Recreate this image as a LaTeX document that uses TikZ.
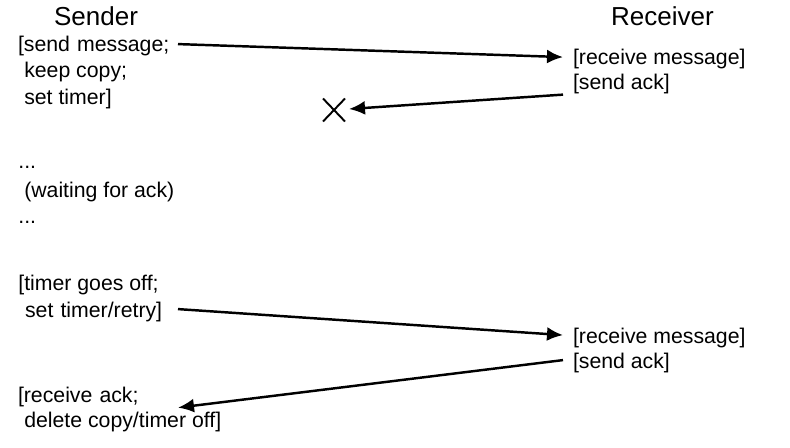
\documentclass[tikz,border=0pt]{standalone}
\usepackage{fontspec}
\setmainfont{Liberation Sans}
\usetikzlibrary{arrows.meta, shapes.misc}

\begin{document}
\begin{tikzpicture}[
    heading/.style={anchor=base, inner sep=0pt, font=\fontsize{14.8}{18}\selectfont},
    sline/.style={anchor=base west, inner sep=0pt, text height=12pt, text depth=3pt, font=\fontsize{12.1}{14}\selectfont},
    scol/.style={sline, text width=3.1cm, align=left, outer xsep=0.1cm},
    rline/.style={sline, outer xsep=0.2cm},
    lostmark/.style={cross out, draw, line width=1.1pt, minimum width=0.44cm, minimum height=0.46cm, inner sep=0pt, outer sep=0pt},
    msg/.style={-{Latex[length=0.32cm, width=0.28cm]}, line width=1.4pt}
]
\useasboundingbox (0,0) rectangle (15.8,8.94);

% Headings
\node[heading] (sender) at (1.92,8.42) {Sender};
\node[heading] (receiver) at (13.25,8.42) {Receiver};

% Sender side
\node[scol] (sendmsg) at (0.26,7.90) {[send message;};
\node[sline] (keepcopy) at (0.36,7.38) {\ keep copy;};
\node[sline] (settimer) at (0.36,6.86) {\ set timer]};

\node[sline] (dotsa) at (0.36,5.58) {...};
\node[sline] (waiting) at (0.36,5.00) {\ (waiting for ack)};
\node[sline] (dotsb) at (0.36,4.48) {...};

\node[sline] (timeroff) at (0.36,3.14) {[timer goes off;};
\node[scol] (retry) at (0.26,2.60) {\ set timer/retry]};

\node[scol] (recvack) at (0.26,0.90) {[receive ack;};
\node[sline] (delcopy) at (0.36,0.40) {\ delete copy/timer off]};

% Receiver side
\node[rline] (recvmsg) at (11.26,7.64) {[receive message]};
\node[rline] (sendack) at (11.26,7.16) {[send ack]};

\node[rline] (recvmsgb) at (11.26,2.08) {[receive message]};
\node[rline] (sendackb) at (11.26,1.58) {[send ack]};

% Lost ack
\node[lostmark] (lostack) at (6.68,6.74) {};

% Messages
\draw[msg] (sendmsg.east) -- (recvmsg.west);
\draw[msg, shorten >=0.08cm] (sendack.south west) -- (lostack);
\draw[msg] (retry.east) -- (recvmsgb.west);
\draw[msg] (sendackb.west) -- (recvack.south east);

\end{tikzpicture}
\end{document}
